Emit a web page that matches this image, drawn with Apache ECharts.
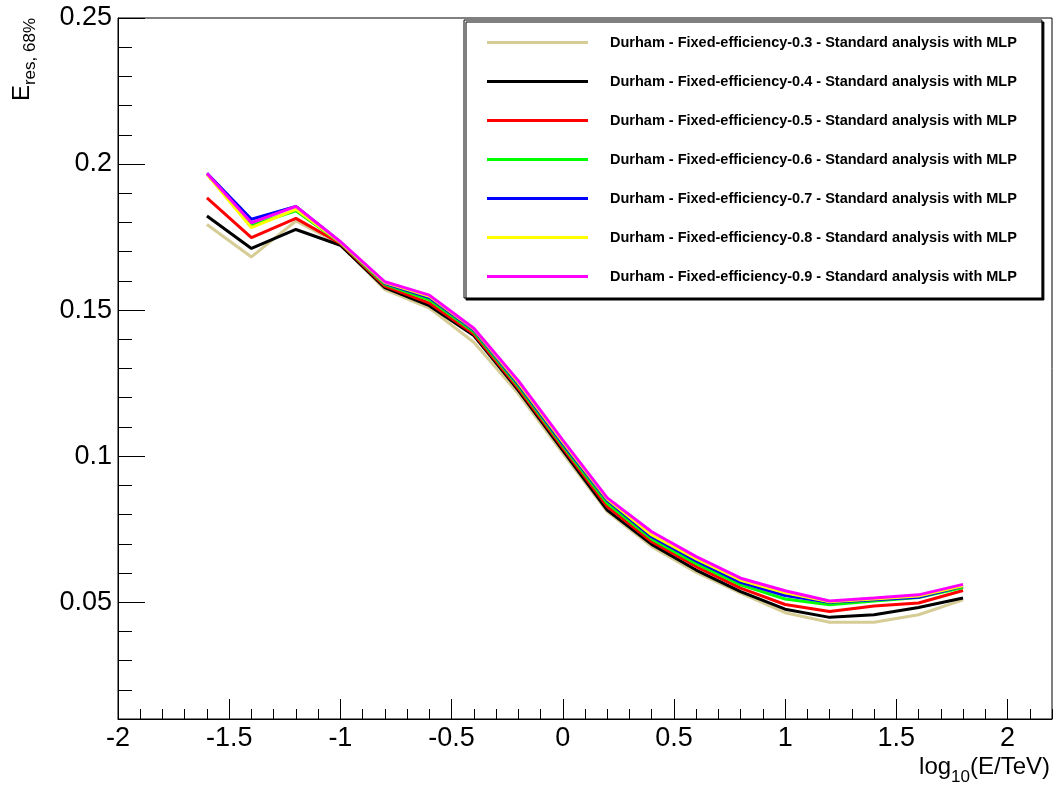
<!DOCTYPE html>
<html>
<head>
<meta charset="utf-8">
<script src="https://cdn.jsdelivr.net/npm/echarts@6/dist/echarts.min.js"></script>
<style>
html,body{margin:0;padding:0;background:#fff;}
#chart{width:1055px;height:790px;}
</style>
</head>
<body>
<div id="chart"></div>
<script>
const xValues = [-1.6,-1.4,-1.2,-1.0,-0.8,-0.6,-0.4,-0.2,0.0,0.2,0.4,0.6,0.8,1.0,1.2,1.4,1.6,1.8];

const eff03 = [0.1793,0.1682,0.1805,0.1725,0.1570,0.1507,0.1390,0.1214,0.1010,0.0810,0.0690,0.0602,0.0531,0.0464,0.0431,0.0431,0.0457,0.0508];
const eff04 = [0.1822,0.1711,0.1776,0.1722,0.1577,0.1515,0.1413,0.1225,0.1020,0.0815,0.0698,0.0610,0.0536,0.0476,0.0448,0.0457,0.0482,0.0514];
const eff05 = [0.1884,0.1748,0.1814,0.1728,0.1582,0.1524,0.1418,0.1232,0.1028,0.0827,0.0707,0.0622,0.0548,0.0492,0.0468,0.0487,0.0497,0.0540];
const eff06 = [0.1966,0.1790,0.1840,0.1731,0.1588,0.1535,0.1426,0.1240,0.1036,0.0838,0.0716,0.0632,0.0559,0.0511,0.0491,0.0504,0.0516,0.0550];
const eff07 = [0.1968,0.1811,0.1855,0.1733,0.1592,0.1543,0.1432,0.1247,0.1043,0.0849,0.0724,0.0641,0.0568,0.0523,0.0500,0.0508,0.0517,0.0555];
const eff08 = [0.1965,0.1782,0.1845,0.1732,0.1594,0.1547,0.1435,0.1252,0.1049,0.0853,0.0730,0.0648,0.0575,0.0532,0.0501,0.0511,0.0521,0.0556];
const eff09 = [0.1968,0.1799,0.1855,0.1734,0.1597,0.1551,0.1438,0.1258,0.1055,0.0857,0.0741,0.0656,0.0582,0.0539,0.0504,0.0514,0.0525,0.0561];

const seriesNames = [
  'Durham - Fixed-efficiency-0.3 - Standard analysis with MLP',
  'Durham - Fixed-efficiency-0.4 - Standard analysis with MLP',
  'Durham - Fixed-efficiency-0.5 - Standard analysis with MLP',
  'Durham - Fixed-efficiency-0.6 - Standard analysis with MLP',
  'Durham - Fixed-efficiency-0.7 - Standard analysis with MLP',
  'Durham - Fixed-efficiency-0.8 - Standard analysis with MLP',
  'Durham - Fixed-efficiency-0.9 - Standard analysis with MLP'
];
const seriesColors = ['#d6cc96','#000000','#ff0000','#00ff00','#0000ff','#ffff00','#ff00ff'];
const seriesValues = [eff03, eff04, eff05, eff06, eff07, eff08, eff09];

const xMajorTicks = [-2,-1.5,-1,-0.5,0,0.5,1,1.5,2];
const yMajorTicks = [0.05,0.1,0.15,0.2,0.25];

const FONT = "'Liberation Sans', Arial, Helvetica, sans-serif";

const chart = echarts.init(document.getElementById('chart'), null, {renderer:'canvas'});

const series = seriesValues.map((vals, i) => ({
  name: seriesNames[i],
  type: 'line',
  xAxisIndex: 0,
  yAxisIndex: 0,
  data: xValues.map((x, j) => [x, vals[j]]),
  showSymbol: false,
  symbol: 'none',
  lineStyle: {color: seriesColors[i], width: 3},
  itemStyle: {color: seriesColors[i]},
  z: 2 + i,
  animation: false
}));

const option = {
  animation: false,
  backgroundColor: '#fff',
  grid: {left:118, top:18, right:3, bottom:71, show:true, borderColor:'#000', borderWidth:1, backgroundColor:'transparent'},
  xAxis: [
    {
      type:'value', min:-2, max:2.2, position:'bottom',
      axisLine:{show:true, onZero:false, lineStyle:{color:'#000', width:1}},
      axisTick:{show:true, inside:true, length:20, lineStyle:{color:'#000', width:1}, customValues:xMajorTicks},
      axisLabel:{show:true, customValues:xMajorTicks, fontSize:27, color:'#000', fontFamily:FONT, margin:6},
      splitLine:{show:false}
    },
    {
      type:'value', min:-2, max:2.2, interval:0.1, position:'bottom',
      axisLine:{show:false, onZero:false},
      axisTick:{show:true, inside:true, length:10, lineStyle:{color:'#000', width:1}},
      axisLabel:{show:false},
      splitLine:{show:false}
    }
  ],
  yAxis: [
    {
      type:'value', min:0.01, max:0.25, position:'left',
      axisLine:{show:true, onZero:false, lineStyle:{color:'#000', width:1}},
      axisTick:{show:true, inside:true, length:27, lineStyle:{color:'#000', width:1}, customValues:yMajorTicks},
      axisLabel:{show:true, customValues:yMajorTicks, fontSize:27, color:'#000', fontFamily:FONT, margin:6},
      splitLine:{show:false}
    },
    {
      type:'value', min:0.01, max:0.25, interval:0.01, position:'left',
      axisLine:{show:false, onZero:false},
      axisTick:{show:true, inside:true, length:14, lineStyle:{color:'#000', width:1}},
      axisLabel:{show:false},
      splitLine:{show:false}
    }
  ],
  legend: {
    orient:'vertical', left:464, top:20,
    icon:'rect', itemWidth:101, itemHeight:3, itemGap:0,
    padding:[3,25,2,23],
    borderColor:'#000', borderWidth:1, backgroundColor:'#fff',
    shadowColor:'#000', shadowBlur:0, shadowOffsetX:2, shadowOffsetY:2,
    selectedMode:false,
    textStyle:{fontFamily:FONT, fontWeight:'bold', fontSize:14.5, color:'#000', lineHeight:39, padding:[0,0,0,17]},
    data: seriesNames
  },
  graphic: [
    {
      type:'text', x:1050, y:755, z:100,
      style:{
        text:'{a|log}{b|10}{a|(E/TeV)}',
        align:'right', verticalAlign:'top',
        rich:{
          a:{fontSize:24, fontFamily:FONT, fill:'#000', lineHeight:24, verticalAlign:'top'},
          b:{fontSize:17, fontFamily:FONT, fill:'#000', lineHeight:17, verticalAlign:'top', padding:[14,0,0,0]}
        }
      }
    },
    {
      type:'text', x:10, y:18, rotation:Math.PI/2, z:100,
      style:{
        text:'{a|E}{b|res, 68%}',
        align:'right', verticalAlign:'top',
        rich:{
          a:{fontSize:24, fontFamily:FONT, fill:'#000', lineHeight:24, verticalAlign:'top'},
          b:{fontSize:17, fontFamily:FONT, fill:'#000', lineHeight:17, verticalAlign:'top', padding:[12,0,0,0]}
        }
      }
    }
  ],
  series: series
};
chart.setOption(option);
</script>
</body>
</html>
